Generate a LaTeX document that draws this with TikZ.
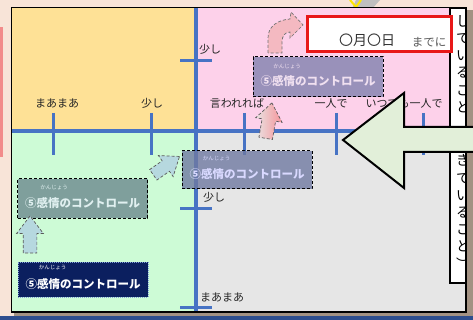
\documentclass[tikz,border=0pt]{standalone}
\usepackage{fontspec}
\setmainfont{Noto Sans CJK JP}
\usetikzlibrary{positioning,shapes.arrows}

\definecolor{peach}{HTML}{F8E4D8}
\definecolor{redside}{HTML}{F28B8B}
\definecolor{shadowbrown}{HTML}{A39283}
\definecolor{bandblue}{HTML}{2E4E8E}
\definecolor{yellowq}{HTML}{FEE196}
\definecolor{pinkq}{HTML}{FDD1EA}
\definecolor{greenq}{HTML}{CDFBD6}
\definecolor{grayq}{HTML}{E6E6E6}
\definecolor{axisblue}{HTML}{4773C4}
\definecolor{navybox}{HTML}{0B1F5F}
\definecolor{dotblue}{HTML}{7F9FD8}
\definecolor{boxteal}{HTML}{7F9F9C}
\definecolor{boxslate}{HTML}{707AA2}
\definecolor{boxlilac}{HTML}{9991BA}
\definecolor{lightarrow}{HTML}{B6D8DF}
\definecolor{pinkarrow}{HTML}{F4B9C1}
\definecolor{arrowgreen}{HTML}{E2EFD9}
\definecolor{datered}{HTML}{E81818}

\begin{document}
\begin{tikzpicture}[x=1pt, y=-1pt,
    axislab/.style={font=\fontsize{11}{13}\selectfont, text=black!85, inner sep=0pt},
    tickmark/.style={draw=axisblue, line width=3pt},
    ctrlbox/.style={draw, densely dashed, line width=1pt, minimum width=130pt, minimum height=38pt,
        text height=20pt, text depth=2pt, inner sep=0pt, font=\bfseries\fontsize{11.5}{13}\selectfont},
    ruby/.style={font=\fontsize{5.5}{6}\selectfont, inner sep=0pt},
    stepup/.style={single arrow, single arrow head extend=6.5pt, single arrow tip angle=75,
        inner sep=6.5pt, draw=black!65, densely dashed, line width=0.7pt},
    vtext/.style={align=center, inner sep=0pt, font=\fontsize{14}{17.2}\selectfont}]
        \useasboundingbox (0,0) rectangle (473,320);
        \fill[peach] (0,0) rectangle (473,320);
        \fill[redside] (0,27) rectangle (3,157);
        \fill[shadowbrown] (14,10) rectangle (473,316);
        \fill[bandblue] (0,316) rectangle (473,320);
        \fill[black!25] (356,0) -- (380,0) -- (372,9) -- (352,9) -- cycle;
        \draw[yellow!90!orange, line width=2pt] (350,0) -- (356,7) -- (361,0);
        
        % quadrants
        \fill[yellowq] (12,8) rectangle (196,131);
        \fill[pinkq] (196,8) rectangle (466,131);
        \fill[greenq] (12,131) rectangle (196,312);
        \fill[grayq] (196,131) rectangle (466,312);
        
        % axes and ticks
        \draw[axisblue, line width=4pt] (12,131) -- (445,131);
        \draw[axisblue, line width=4pt] (196,8) -- (196,312);
        \foreach \x in {53,151,244,336,423}
            \draw[tickmark] (\x,113) -- (\x,155);
        \foreach \y in {61,209,307}
            \draw[tickmark] (180,\y) -- (212,\y);
        
        \node (h1) at (57,103) [axislab] {まあまあ};
        \node (h2) at (152,103) [axislab] {少し};
        \node (h3) at (237,103) [axislab] {言われれば};
        \node (h4) at (331,103) [axislab] {一人で};
        \node (h5) at (404,103) [axislab] {いつでも一人で};
        \node (v1) at (210,49) [axislab] {少し};
        \node (v2) at (214,197) [axislab] {少し};
        \node (v3) at (222,297) [axislab] {まあまあ};
        
        % control boxes
        \node (c1) at (83,279.5) [ctrlbox, minimum height=35pt, fill=navybox, draw=dotblue, densely dotted, text=white] {⑤感情のコントロール};
        \node (c2) at (82.5,198.5) [ctrlbox, minimum height=39pt, fill=boxteal, text=white!88!teal] {⑤感情のコントロール};
        \node (c3) at (247,170) [ctrlbox, fill=boxslate, fill opacity=0.8, text opacity=1, text=white!85!blue] {⑤感情のコントロール};
        \node (c4) at (318,77) [ctrlbox, minimum height=40pt, fill=boxlilac, text=white!88!violet] {⑤感情のコントロール};
        
        \node (k1) at ([xshift=35pt, yshift=11.5pt]c1.west) [ruby, text=white] {かんじょう};
        \node (k2) at ([xshift=37pt, yshift=10.5pt]c2.west) [ruby, text=white!88!teal] {かんじょう};
        \node (k3) at ([xshift=35pt, yshift=11pt]c3.west) [ruby, text=white!85!blue] {かんじょう};
        \node (k4) at ([xshift=34.5pt, yshift=10pt]c4.west) [ruby, text=white!88!violet] {かんじょう};
        
        % step arrows
        \node (u1) at (30,239) [stepup, rotate=90, minimum height=37pt, fill=lightarrow] {};
        \node (u2) at (163,168) [stepup, rotate=35, minimum height=32pt, inner sep=6pt, fill=lightarrow] {};
        \node (u3) at (268,125) [stepup, rotate=80, minimum height=36pt, left color=grayq!90!pink, right color=pinkarrow!80!red] {};
        \filldraw[pinkarrow, draw=black!55, densely dashed, line width=0.7pt]
            (268,53) -- (268,38) .. controls (268,26) and (278,20) .. (290,19)
            -- (291,12) -- (303,25) -- (290,38) -- (290,32)
            .. controls (285,32) and (282,36) .. (282,42) -- (282,53) -- cycle;
        
        % side strips
        \draw[fill=white, line width=1.2pt] (450,8) rectangle (466,127);
        \draw[fill=white, line width=1.2pt] (450,152) rectangle (466,283);
        \begin{scope}
            \clip (451,8) rectangle (465.5,283);
            \node (s1) at (463,64) [vtext] {し\\て\\い\\る\\こ\\と};
            \node (s2) at (463,212) [vtext] {き\\て\\い\\る\\こ\\と\\︶};
        \end{scope}
        
        % deadline box
        \node (due) at (379.5,34) [draw=datered, line width=3pt, fill=white, minimum width=144pt, minimum height=35pt] {};
        \node (mday) at (367,40) [font=\fontsize{14}{16}\selectfont, text=black!80, inner sep=0pt] {〇月〇日};
        \node (madeni) at (429,42) [font=\fontsize{11.5}{13}\selectfont, text=black!65, inner sep=0pt] {までに};
        
        % frame and big arrow
        \draw[line width=1.8pt] (11.5,7.5) rectangle (466,312);
        \draw[line width=2pt, fill=arrowgreen, line join=miter]
            (476,127) -- (404,127) -- (404,93) -- (343,140) -- (404,188) -- (404,152) -- (476,152) -- cycle;
    \end{tikzpicture}
\end{document}
